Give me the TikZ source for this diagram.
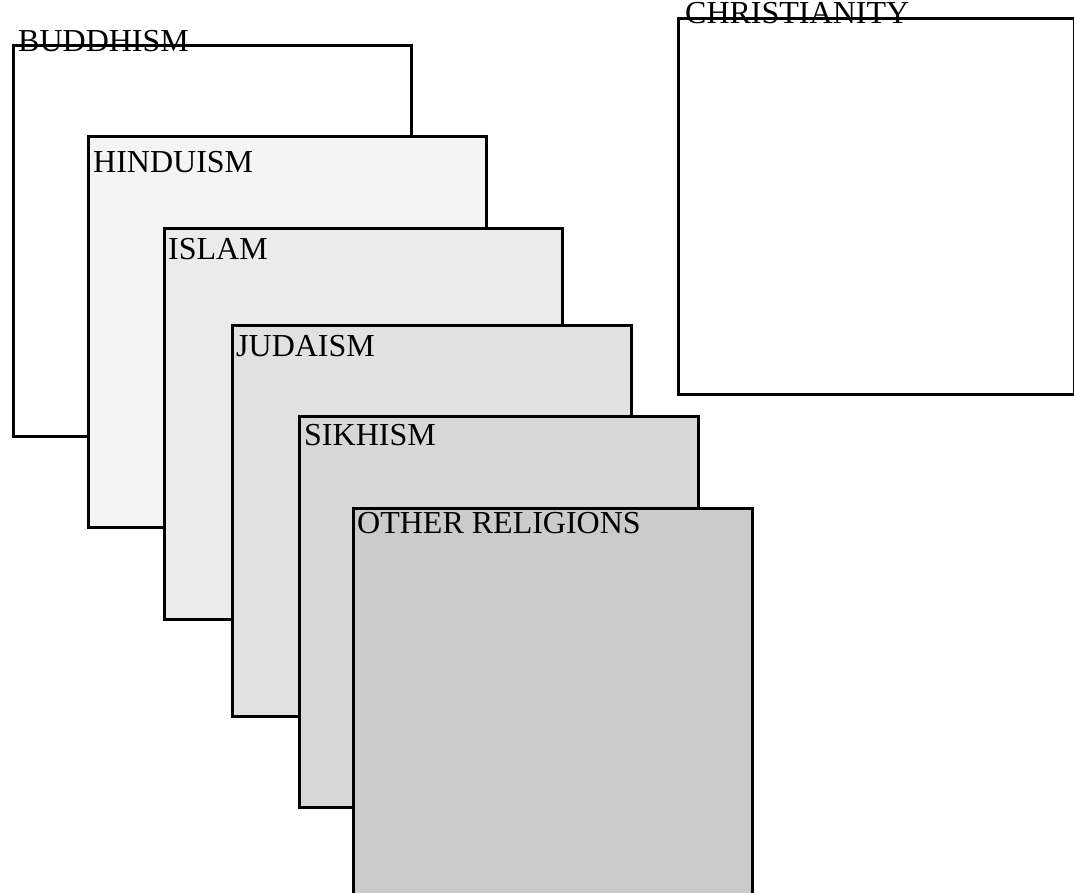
\documentclass[tikz,border=0pt]{standalone}
\usepackage{fontspec}
\setmainfont{Liberation Serif}
\definecolor{fillA}{HTML}{F4F4F4}
\definecolor{fillB}{HTML}{EBEBEB}
\definecolor{fillC}{HTML}{E1E1E1}
\definecolor{fillD}{HTML}{D7D7D7}
\definecolor{fillE}{HTML}{CBCBCB}
\tikzset{
  panel/.style={draw=black, line width=2.5pt, anchor=north west, inner sep=0pt, minimum width=398pt, minimum height=391pt},
  label/.style={anchor=base west, inner sep=0pt, font=\fontsize{32}{36}\selectfont},
}
\begin{document}
\begin{tikzpicture}[x=1pt,y=-1pt]
\useasboundingbox (0,0) rectangle (1074,892);
\clip (0,0) rectangle (1074,892);
\fill[white] (0,0) rectangle (1074,892);
% Christianity
\node[panel, fill=white, minimum width=396pt, minimum height=376pt] (chr) at (677,17) {};
\node[label] (chrt) at (685,23) {CHRISTIANITY};
% Buddhism
\node[panel, fill=white] (bud) at (12,44) {};
\node[label] (budt) at (18,51) {BUDDHISM};
% Hinduism
\node[panel, fill=fillA] (hin) at (87,135) {};
\node[label] (hint) at (93,172) {HINDUISM};
% Islam
\node[panel, fill=fillB] (isl) at (163,227) {};
\node[label] (islt) at (168,259) {ISLAM};
% Judaism
\node[panel, fill=fillC, minimum width=399pt] (jud) at (231,324) {};
\node[label] (judt) at (236,356) {JUDAISM};
% Sikhism
\node[panel, fill=fillD, minimum width=399pt] (sik) at (298,415) {};
\node[label] (sikt) at (304,445) {SIKHISM};
% Other religions
\node[panel, fill=fillE, minimum width=399pt] (oth) at (352,507) {};
\node[label] (otht) at (357,533) {OTHER RELIGIONS};
\end{tikzpicture}
\end{document}
